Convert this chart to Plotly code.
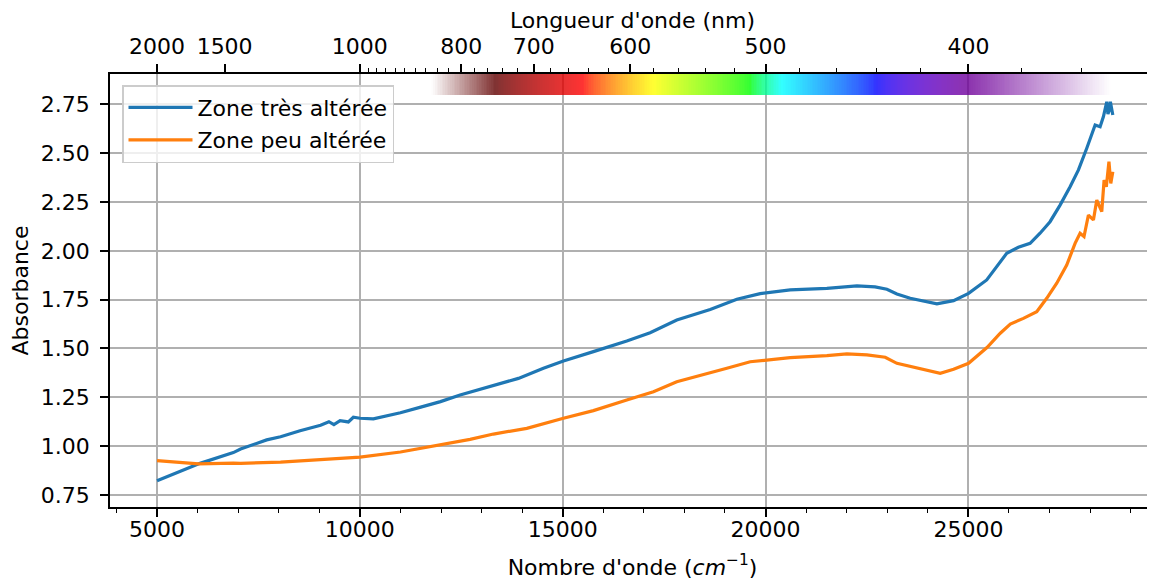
import numpy as np
import plotly.graph_objects as go

# ---------------- data ----------------
wn_blue = [5000, 5500, 6060, 6881, 7060, 7703, 8046, 8526, 9032, 9237, 9360, 9512, 9716,
           9840, 10005, 10333, 11000, 11500, 11987, 12471, 12717, 13292, 13908, 14525,
           15018, 15757, 16580, 17155, 17812, 18636, 19293, 19868, 20608, 21512, 22252,
           22700, 22992, 23238, 23566, 24224, 24635, 25005, 25452, 25945, 26232, 26521,
           26767, 27013, 27260, 27507, 27713, 27918, 28124, 28247, 28329, 28411, 28440,
           28476, 28500, 28560]
abs_blue = [0.823, 0.866, 0.912, 0.967, 0.985, 1.032, 1.048, 1.079, 1.107, 1.125, 1.110,
            1.130, 1.124, 1.148, 1.143, 1.140, 1.171, 1.200, 1.228, 1.262, 1.276, 1.313,
            1.347, 1.399, 1.436, 1.484, 1.538, 1.581, 1.646, 1.700, 1.752, 1.781, 1.800,
            1.808, 1.820, 1.815, 1.803, 1.779, 1.757, 1.728, 1.745, 1.782, 1.851, 1.987,
            2.018, 2.038, 2.090, 2.149, 2.234, 2.328, 2.414, 2.525, 2.644, 2.635, 2.687,
            2.763, 2.700, 2.721, 2.763, 2.695]

wn_orange = [5000, 5402, 5731, 6025, 6881, 7060, 8046, 8526, 9032, 9360, 10005, 11000,
             12233, 12717, 13292, 14115, 15018, 15757, 16580, 17237, 17812, 18389, 19046,
             19622, 20033, 20608, 21512, 22006, 22499, 22950, 23238, 23731, 24306, 24635,
             25005, 25458, 25786, 26033, 26356, 26685, 26931, 27178, 27424, 27630, 27753,
             27850, 27959, 28082, 28165, 28288, 28345, 28400, 28465, 28510, 28560]
abs_orange = [0.926, 0.920, 0.915, 0.909, 0.913, 0.912, 0.918, 0.924, 0.929, 0.934, 0.944,
              0.970, 1.015, 1.035, 1.062, 1.091, 1.143, 1.182, 1.236, 1.279, 1.330, 1.364,
              1.399, 1.432, 1.441, 1.453, 1.463, 1.472, 1.467, 1.455, 1.424, 1.399, 1.373,
              1.394, 1.424, 1.505, 1.578, 1.625, 1.654, 1.688, 1.757, 1.834, 1.927, 2.038,
              2.090, 2.073, 2.183, 2.158, 2.260, 2.200, 2.362, 2.328, 2.456, 2.345, 2.405]

series_names = ["Zone très altérée", "Zone peu altérée"]

wl_major = [2000, 1500, 1000, 800, 700, 600, 500, 400]          # nm
wl_minor = [w for w in range(340, 1000, 20) if w not in wl_major]

bottom_ticks = [5000, 10000, 15000, 20000, 25000]
y_ticks = [0.75, 1.00, 1.25, 1.50, 1.75, 2.00, 2.25, 2.50, 2.75]

# ---------------- spectrum band colours ----------------
def wavelength_to_rgb(wl, gamma=0.8):
    wl = min(max(wl, 380), 750)
    if wl <= 440:
        att = 0.3 + 0.7 * (wl - 380) / 60
        r = ((-(wl - 440) / 60) * att) ** gamma
        g = 0.0
        b = (1.0 * att) ** gamma
    elif wl <= 490:
        r, g, b = 0.0, ((wl - 440) / 50) ** gamma, 1.0
    elif wl <= 510:
        r, g, b = 0.0, 1.0, (-(wl - 510) / 20) ** gamma
    elif wl <= 580:
        r, g, b = ((wl - 510) / 70) ** gamma, 1.0, 0.0
    elif wl <= 645:
        r, g, b = 1.0, (-(wl - 645) / 65) ** gamma, 0.0
    else:
        att = 0.3 + 0.7 * (750 - wl) / 105
        r, g, b = att ** gamma, 0.0, 0.0
    return r, g, b

WN_LO, WN_HI = 1e7 / 850, 28500
band_wn_edges = np.linspace(WN_LO, WN_HI, 401)
band_wn_mid = 0.5 * (band_wn_edges[:-1] + band_wn_edges[1:])
colorscale = []
n = len(band_wn_mid)
for i, wn in enumerate(band_wn_mid):
    wl = 1e7 / wn
    if wl > 750:
        r, g, b = wavelength_to_rgb(750)
        a = np.clip((wn - WN_LO) / (1e7 / 750 - WN_LO), 0, 1)
    elif wl < 400:
        r, g, b = wavelength_to_rgb(400)
        a = np.clip((WN_HI - wn) / (WN_HI - 25000), 0, 1)
    else:
        r, g, b = wavelength_to_rgb(wl)
        a = 1.0
    rr = 255 * (a * r + (1 - a))
    gg = 255 * (a * g + (1 - a))
    bb = 255 * (a * b + (1 - a))
    colorscale.append([i / (n - 1), f"rgb({rr:.0f},{gg:.0f},{bb:.0f})"])

# ---------------- figure ----------------
XR = [3841, 29600]
YR = [0.6886, 2.905]
FONT = "DejaVu Sans"
FS = 22

fig = go.Figure()

fig.add_trace(go.Heatmap(
    x=band_wn_edges, y=[2.795, 2.905], z=[list(range(n))],
    colorscale=colorscale, showscale=False, opacity=0.8, hoverinfo="skip",
    xaxis="x2", yaxis="y",
))

fig.add_trace(go.Scatter(x=wn_blue, y=abs_blue, mode="lines", name=series_names[0],
                         line=dict(color="#1f77b4", width=3.2), legendgroup="a"))
fig.add_trace(go.Scatter(x=wn_orange, y=abs_orange, mode="lines", name=series_names[1],
                         line=dict(color="#ff7f0e", width=3.2), legendgroup="b"))

axis_common = dict(ticks="outside", ticklen=8, tickwidth=1.7, tickcolor="black",
                   showline=True, linecolor="black", linewidth=1.7, automargin=False,
                   tickfont=dict(family=FONT, size=FS, color="black"), zeroline=False)

# page body has an 8 px margin: shift the figure so the plot lands where the reference has it
fig.update_layout(
    width=1147, height=573,
    margin=dict(l=102, r=0, t=66, b=74, autoexpand=False),
    paper_bgcolor="white", plot_bgcolor="white",
    font=dict(family=FONT, size=FS, color="black"),
    xaxis=dict(range=XR, tickmode="array", tickvals=bottom_ticks,
               ticktext=[str(v) for v in bottom_ticks],
               showgrid=True, gridcolor="#b0b0b0", gridwidth=1.7,
               ticklabelstandoff=-6,
               minor=dict(dtick=1000, tick0=0, ticks="outside", ticklen=4.5,
                          tickwidth=1.3, tickcolor="black", showgrid=False),
               title=dict(text="Nombre d'onde (<i>cm</i><sup>−1</sup>)",
                          font=dict(family=FONT, size=FS), standoff=18),
               **axis_common),
    xaxis2=dict(range=XR, overlaying="x", side="top", anchor="y",
                tickmode="array", tickvals=[1e7 / w for w in wl_major],
                ticktext=[str(w) for w in wl_major], showgrid=False,
                ticklabelstandoff=1,
                minor=dict(tickmode="array", tickvals=[1e7 / w for w in wl_minor],
                           ticks="outside", ticklen=4.5, tickwidth=1.3,
                           tickcolor="black", showgrid=False),
                title=dict(text="Longueur d'onde (nm)",
                           font=dict(family=FONT, size=FS), standoff=1),
                **axis_common),
    yaxis=dict(range=YR, tickmode="array", tickvals=y_ticks,
               ticktext=[f"{v:.2f}" for v in y_ticks],
               showgrid=True, gridcolor="#b0b0b0", gridwidth=1.7,
               ticklabelstandoff=6,
               title=dict(text="Absorbance", font=dict(family=FONT, size=FS), standoff=7),
               **axis_common),
    legend=dict(x=(122 - 110) / 1045, y=(507 - 85) / 433, xanchor="left", yanchor="top",
                bgcolor="rgba(255,255,255,0.8)", bordercolor="#cccccc", borderwidth=1.5,
                font=dict(family=FONT, size=FS), tracegroupgap=1, itemwidth=64),
    showlegend=True,
)

fig.write_html("out.html")
